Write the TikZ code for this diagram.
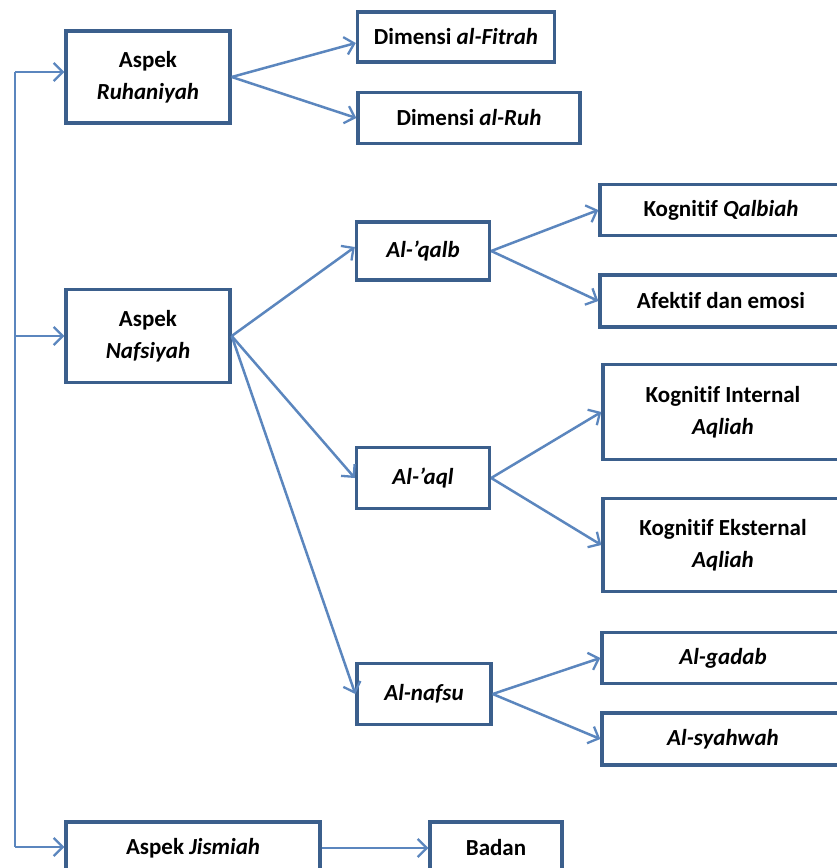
\documentclass[tikz,border=0pt]{standalone}
\usepackage{fontspec}
\setmainfont[Ligatures=NoCommon]{Carlito}
\usetikzlibrary{arrows.meta}
\definecolor{boxline}{HTML}{3B5F8C}
\definecolor{arrline}{HTML}{5B86BE}
\tikzset{
  box/.style={draw=boxline, line width=3.4pt, fill=white, align=center,
    inner sep=0pt, font=\fontsize{23}{32}\selectfont\bfseries},
  conn/.style={draw=arrline, line width=2.5pt,
    -{Straight Barb[length=9pt,width=18pt,line width=2.3pt]}},
  plain/.style={draw=arrline, line width=2.5pt}
}
\begin{document}
\begin{tikzpicture}[x=1pt,y=-1pt]
\useasboundingbox (0,0) rectangle (837,868);
\clip (0,0) rectangle (837,868);
\fill[white] (0,0) rectangle (837,868);
% level 1
\node[box, minimum width=164pt, minimum height=92pt] (ruh) at (148,77) {Aspek\\\textit{Ruhaniyah}};
\node[box, minimum width=164pt, minimum height=93pt] (naf) at (148,336) {Aspek\\\textit{Nafsiyah}};
\node[box, minimum width=254pt, minimum height=52pt] (jis) at (193,848) {Aspek \textit{Jismiah}};
% level 2
\node[box, minimum width=197pt, minimum height=50pt] (fit) at (456,37) {Dimensi \textit{al-Fitrah}};
\node[box, minimum width=222pt, minimum height=51pt] (ruhd) at (469,118) {Dimensi \textit{al-Ruh}};
\node[box, minimum width=133pt, minimum height=58pt] (qalb) at (423,251) {\textit{Al-'qalb}};
\node[box, minimum width=133pt, minimum height=61pt] (aql) at (423,478) {\textit{Al-'aql}};
\node[box, minimum width=134pt, minimum height=61pt] (nafsu) at (424,694) {\textit{Al-nafsu}};
\node[box, minimum width=132pt, minimum height=52pt] (badan) at (496,848) {Badan};
% level 3
\node[box, minimum width=242pt, minimum height=51pt] (kq) at (721,210) {Kognitif \textit{Qalbiah}};
\node[box, minimum width=242pt, minimum height=52pt] (af) at (721,301) {Afektif dan emosi};
\node[box, minimum width=240pt, minimum height=95pt] (ki) at (723,412) {Kognitif Internal\\\textit{Aqliah}};
\node[box, minimum width=240pt, minimum height=93pt] (ke) at (723,545) {Kognitif Eksternal\\\textit{Aqliah}};
\node[box, minimum width=242pt, minimum height=51pt] (gad) at (723,658) {\textit{Al-gadab}};
\node[box, minimum width=242pt, minimum height=52pt] (sya) at (723,739) {\textit{Al-syahwah}};
% left spine
\coordinate (top) at (15,72);
\coordinate (mid) at (15,336);
\coordinate (bot) at (15,847);
\draw[plain] (top) -- (bot);
\draw[conn] (top) -- (ruh.west |- top);
\draw[conn] (mid) -- (naf.west);
\draw[conn] (bot) -- (jis.west |- bot);
% branches
\draw[conn] (ruh.east) -- ([yshift=-6pt]fit.west);
\draw[conn] (ruh.east) -- (ruhd.west);
\draw[conn] (naf.east) -- ([yshift=4pt]qalb.west);
\draw[conn] (naf.east) -- (aql.west);
\draw[conn] (naf.east) -- (nafsu.west);
\draw[conn] (qalb.east) -- (kq.west);
\draw[conn] (qalb.east) -- (af.west);
\draw[conn] (aql.east) -- (ki.west);
\draw[conn] (aql.east) -- (ke.west);
\draw[conn] (nafsu.east) -- (gad.west);
\draw[conn] (nafsu.east) -- (sya.west);
\draw[conn] (jis.east) -- (badan.west);
\end{tikzpicture}
\end{document}
